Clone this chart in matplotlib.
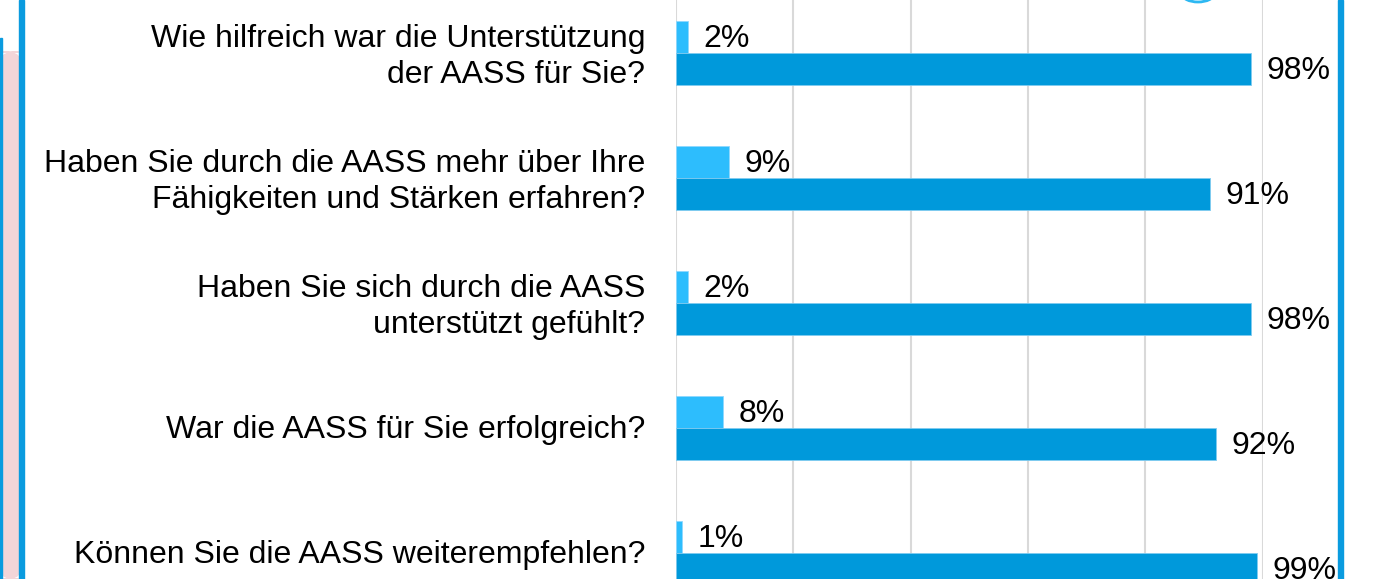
import matplotlib
matplotlib.use("Agg")
import matplotlib.pyplot as plt
from matplotlib.patches import Rectangle, Ellipse, FancyBboxPatch
import numpy as np

plt.rcParams['font.family'] = ['Liberation Sans', 'DejaVu Sans']

categories = [
    "Wie hilfreich war die Unterstützung\nder AASS für Sie?",
    "Haben Sie durch die AASS mehr über Ihre\nFähigkeiten und Stärken erfahren?",
    "Haben Sie sich durch die AASS\nunterstützt gefühlt?",
    "War die AASS für Sie erfolgreich?",
    "Können Sie die AASS weiterempfehlen?",
]
negative = [2, 9, 2, 8, 1]
positive = [98, 91, 98, 92, 99]

W, H = 1379, 579
fig = plt.figure(figsize=(W / 100, H / 100), dpi=100)
fig.patch.set_facecolor('white')

ax_left = 676 / W
ax_width = (1262.7 - 676) / W
ax = fig.add_axes([ax_left, 0, ax_width, 1])
ax.set_facecolor('none')

pitch = 125.0
y = np.arange(len(categories))
bh = 32 / pitch
light = '#2DBDFD'
dark = '#0099DB'

ax.barh(y - bh / 2, negative, height=bh, color=light, edgecolor='#8FD8FF', linewidth=0.6, zorder=3)
ax.barh(y + bh / 2, positive, height=bh, color=dark, edgecolor='#7FCBF0', linewidth=0.6, zorder=3)

ax.set_xlim(0, 100)
ax.set_ylim(4 + 26.5 / pitch, -52.5 / pitch)

ax.set_xticks([0, 20, 40, 60, 80, 100])
ax.xaxis.grid(True, color='#D9D9D9', linewidth=1.5, zorder=0)
ax.set_axisbelow(True)
ax.tick_params(axis='x', length=0, labelbottom=False)
for s in ax.spines.values():
    s.set_visible(False)

ax.set_yticks(y)
ax.set_yticklabels([])
ax.tick_params(axis='y', length=0)

# category labels
for i, label in enumerate(categories):
    dy = -3 if "\n" in label else -2
    ax.annotate(label, xy=(0, i), xytext=(-22, dy), textcoords='offset points',
                ha='right', va='center', fontsize=23, linespacing=1.27,
                multialignment='right', annotation_clip=False)

for i, (n, p) in enumerate(zip(negative, positive)):
    ax.annotate(f"{n}%", xy=(n, i - bh / 2), xytext=(11, -2), textcoords='offset points',
                ha='left', va='center', fontsize=23, annotation_clip=False)
    ax.annotate(f"{p}%", xy=(p, i + bh / 2), xytext=(11, -2), textcoords='offset points',
                ha='left', va='center', fontsize=23, annotation_clip=False)

# decorative frame pieces from the slide
fig.patches.append(Rectangle((19 / W, 0), 5 / W, 1, transform=fig.transFigure,
                             color='#0A9BDF', zorder=5))
fig.patches.append(Rectangle((1338 / W, 0), 5 / W, 1, transform=fig.transFigure,
                             color='#0A9BDF', zorder=5))
fig.patches.append(Rectangle((0, 0), 2 / W, 1 - 38 / H, transform=fig.transFigure,
                             color='#0A9BDF', zorder=5))
fig.patches.append(FancyBboxPatch((2 / W, 0), 17 / W, 1 - 52 / H,
                                  boxstyle='round,pad=0,rounding_size=0.012',
                                  transform=fig.transFigure, color='#F3D5D8', zorder=4))
fig.patches.append(Ellipse((1198 / W, 1 + 6 / H), 32 / W, 16 / H, transform=fig.transFigure,
                           facecolor='white', edgecolor='#2DB8F2', linewidth=2, zorder=5))

fig.savefig('out.png', dpi=100)
